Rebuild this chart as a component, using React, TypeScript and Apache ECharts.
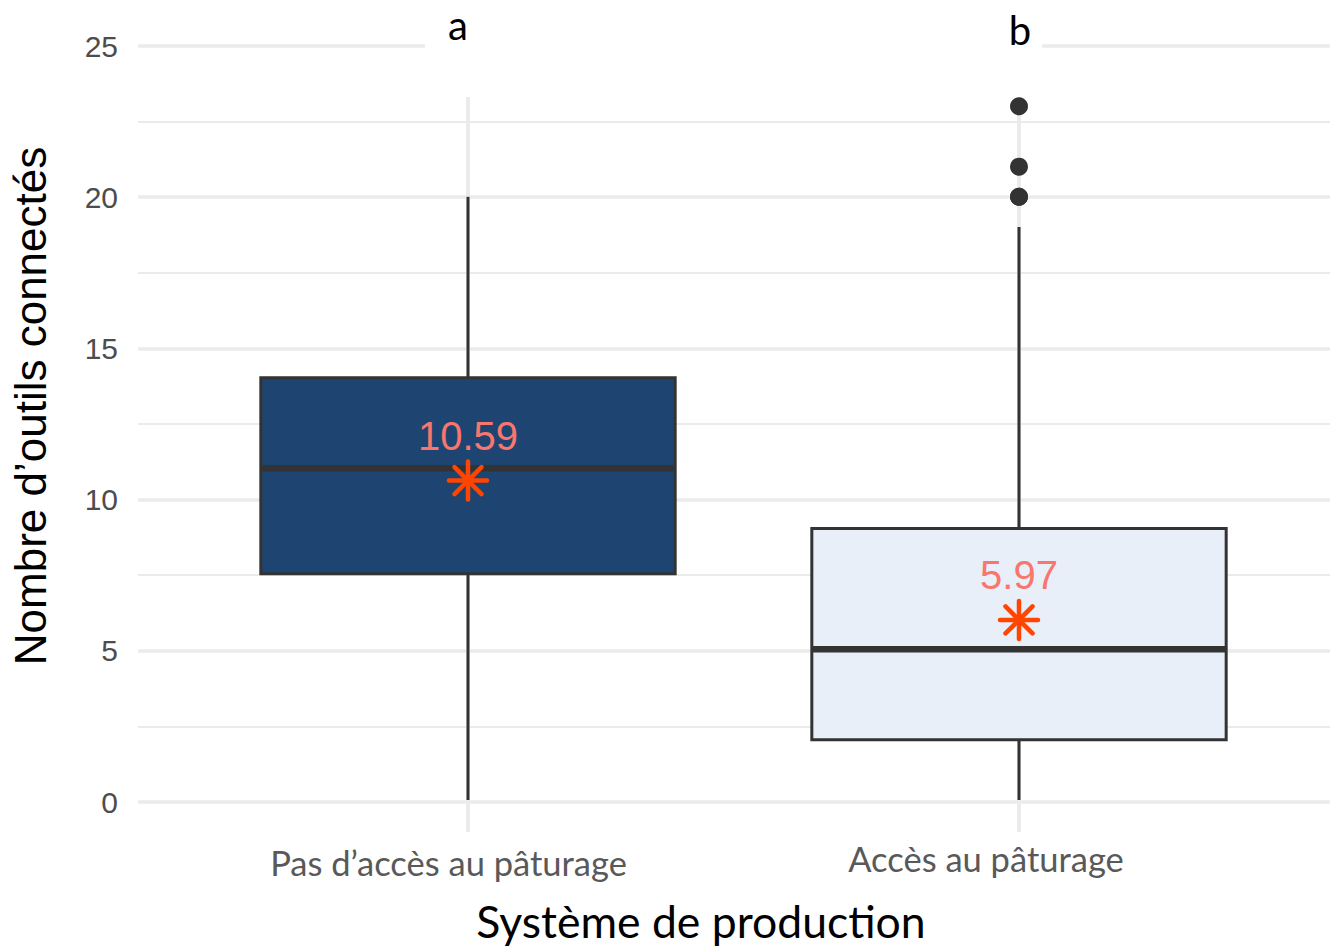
import React, { useEffect, useRef } from "react";
import * as echarts from "echarts";

const categories = ["Pas d’accès au pâturage", "Accès au pâturage"];
// [categoryIndex, min, Q1, median, Q3, max]
const boxStats = [
  [0, 0, 7.5, 11, 14, 20],
  [1, 0, 2, 5, 9, 19],
];
const means = [10.59, 5.97];
const outliers = [
  [1, 20],
  [1, 20],
  [1, 21],
  [1, 23],
];
const boxColors = ["#1e4571", "#e8eff8"];
const groupLetters = ["a", "b"];

export default function App() {
  const ref = useRef<HTMLDivElement>(null);
  useEffect(() => {
    if (!ref.current) return;
    const chart = echarts.init(ref.current, null, { renderer: "svg" });
    const grid = "#ebebeb";
    const option: any = {
      animation: false,
      backgroundColor: "#ffffff",
      grid: [
        // data panel (category bands)
        { left: 192.5, right: 35.5, top: 46, bottom: 146 },
        // vertical grid lines at category centres (extends below 0)
        { left: 468, right: 311, top: 10, bottom: 116 },
        // horizontal grid lines + y labels
        { left: 138, right: 0, top: 46, bottom: 146 },
      ],
      xAxis: [
        {
          type: "category",
          gridIndex: 0,
          data: [
            { value: categories[0], textStyle: { padding: [4, 39, 0, 0] } },
            { value: categories[1], textStyle: { padding: [0, 66, 0, 0] } },
          ],
          axisLine: { show: false },
          axisTick: { show: false },
          splitLine: { show: false },
          axisLabel: {
            margin: 41,
            fontFamily: "Lato",
            fontSize: 34.5,
            color: "#595959",
          },
          name: "Système de production",
          nameLocation: "middle",
          nameGap: 98,
          nameTextStyle: {
            fontFamily: "Lato",
            fontSize: 44.5,
            color: "#000000",
            padding: [0, 85, 0, 0],
          },
        },
        {
          type: "value",
          gridIndex: 1,
          min: 0,
          max: 1,
          interval: 1,
          axisLine: { show: false },
          axisTick: { show: false },
          axisLabel: { show: false },
          splitLine: { show: true, lineStyle: { color: grid, width: 4 } },
        },
        {
          type: "value",
          gridIndex: 2,
          min: 0,
          max: 1,
          show: false,
        },
      ],
      yAxis: [
        {
          type: "value",
          gridIndex: 0,
          min: 0,
          max: 25,
          interval: 5,
          show: false,
        },
        {
          type: "value",
          gridIndex: 1,
          min: 0,
          max: 1,
          show: false,
        },
        {
          type: "value",
          gridIndex: 2,
          min: 0,
          max: 25,
          interval: 5,
          axisLine: { show: false },
          axisTick: { show: false },
          axisLabel: {
            margin: 20,
            fontFamily: "Liberation Sans",
            fontSize: 30,
            color: "#4d4d4d",
          },
          splitLine: { show: true, lineStyle: { color: grid, width: 3.5 } },
          minorTick: { show: false, splitNumber: 2 },
          minorSplitLine: { show: true, lineStyle: { color: grid, width: 2 } },
          name: "Nombre d’outils connectés",
          nameLocation: "middle",
          nameRotate: 90,
          nameGap: 86,
          nameTextStyle: {
            fontFamily: "Liberation Sans",
            fontSize: 44,
            color: "#000000",
            padding: [0, 0, 0, 36],
          },
        },
      ],
      graphic: [
        {
          type: "rect",
          z: 50,
          shape: { x: 425, y: 0, width: 617, height: 97 },
          style: { fill: "#ffffff" },
        },
        {
          type: "text",
          z: 60,
          x: 458,
          y: 25,
          style: {
            text: groupLetters[0],
            fontFamily: "Lato",
            fontSize: 40,
            lineHeight: 40,
            fill: "#000000",
            textAlign: "center",
            textVerticalAlign: "middle",
          },
        },
        {
          type: "text",
          z: 60,
          x: 1020,
          y: 30,
          style: {
            text: groupLetters[1],
            fontFamily: "Lato",
            fontSize: 40,
            lineHeight: 40,
            fill: "#000000",
            textAlign: "center",
            textVerticalAlign: "middle",
          },
        },
      ],
      series: [
        {
          type: "custom",
          xAxisIndex: 0,
          yAxisIndex: 0,
          data: boxStats,
          encode: { x: 0, y: [1, 2, 3, 4, 5] },
          z: 3,
          renderItem: (params: any, api: any) => {
            const idx = api.value(0);
            const pLow = api.coord([idx, api.value(1)]);
            const pQ1 = api.coord([idx, api.value(2)]);
            const pMed = api.coord([idx, api.value(3)]);
            const pQ3 = api.coord([idx, api.value(4)]);
            const pHigh = api.coord([idx, api.value(5)]);
            const bw = api.size([1, 0])[0] * 0.752;
            const x = pMed[0];
            const stroke = "#333333";
            return {
              type: "group",
              children: [
                {
                  type: "line",
                  shape: { x1: x, y1: pLow[1], x2: x, y2: pQ1[1] },
                  style: { stroke, lineWidth: 3 },
                },
                {
                  type: "line",
                  shape: { x1: x, y1: pQ3[1], x2: x, y2: pHigh[1] },
                  style: { stroke, lineWidth: 3 },
                },
                {
                  type: "rect",
                  shape: {
                    x: x - bw / 2,
                    y: pQ3[1],
                    width: bw,
                    height: pQ1[1] - pQ3[1],
                  },
                  style: { fill: boxColors[idx], stroke, lineWidth: 3 },
                },
                {
                  type: "line",
                  shape: {
                    x1: x - bw / 2,
                    y1: pMed[1],
                    x2: x + bw / 2,
                    y2: pMed[1],
                  },
                  style: { stroke, lineWidth: 6.5 },
                },
              ],
            };
          },
        },
        {
          type: "scatter",
          xAxisIndex: 0,
          yAxisIndex: 0,
          data: outliers,
          symbol: "circle",
          symbolSize: 18,
          itemStyle: { color: "#333333", opacity: 1 },
          z: 4,
        },
        {
          type: "custom",
          xAxisIndex: 0,
          yAxisIndex: 0,
          data: means.map((m, i) => [i, m]),
          encode: { x: 0, y: 1 },
          z: 5,
          renderItem: (params: any, api: any) => {
            const p = api.coord([api.value(0), api.value(1)]);
            const r = 19;
            const d = 13.5;
            const st = { stroke: "#ff4500", lineWidth: 4.5, lineCap: "round" };
            return {
              type: "group",
              children: [
                { type: "line", shape: { x1: p[0], y1: p[1] - r, x2: p[0], y2: p[1] + r }, style: st },
                { type: "line", shape: { x1: p[0] - r, y1: p[1], x2: p[0] + r, y2: p[1] }, style: st },
                { type: "line", shape: { x1: p[0] - d, y1: p[1] - d, x2: p[0] + d, y2: p[1] + d }, style: st },
                { type: "line", shape: { x1: p[0] - d, y1: p[1] + d, x2: p[0] + d, y2: p[1] - d }, style: st },
                {
                  type: "text",
                  x: p[0],
                  y: p[1] - 45,
                  style: {
                    text: api.value(1).toFixed(2),
                    fontFamily: "Liberation Sans",
                    fontSize: 40,
                    fill: "#f8766d",
                    textAlign: "center",
                    textVerticalAlign: "middle",
                  },
                },
              ],
            };
          },
        },
      ],
    };
    chart.setOption(option);
    return () => chart.dispose();
  }, []);
  return (
    <div
      ref={ref}
      style={{ position: "absolute", left: 0, top: 0, width: 1330, height: 948 }}
    />
  );
}
